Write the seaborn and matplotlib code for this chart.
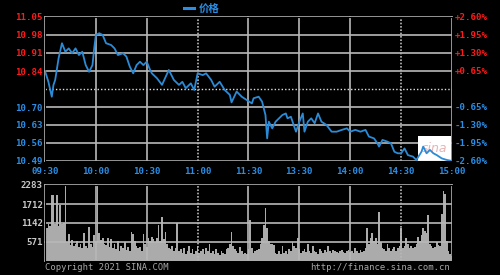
import matplotlib
matplotlib.use("Agg")
import matplotlib.pyplot as plt
import seaborn as sns
import pandas as pd
from matplotlib.patches import Rectangle

# ---------------- data ----------------
price_minutes = [0, 2, 4, 5, 6, 8, 10, 12, 14, 16, 18, 20, 22, 24, 26, 28, 29, 30, 32, 34,
                 36, 39, 41, 43, 46, 48, 50, 52, 54, 56, 58, 60, 62, 63, 66, 69, 73, 76, 79, 81,
                 83, 86, 88, 90, 93, 95, 98, 100, 103, 106, 109, 110, 113, 116, 119, 122, 123, 126, 128, 130,
                 131, 132, 134, 136, 138, 140, 142, 143, 145, 147, 148, 150, 152, 153, 155, 157, 159, 161, 163, 166,
                 169, 172, 175, 178, 180, 183, 186, 189, 191, 194, 196, 197, 199, 202, 204, 206, 208, 210, 212, 214,
                 217, 219, 222, 223, 225, 227, 229, 231, 234, 237, 240]
prices = [10.840, 10.798, 10.740, 10.786, 10.805, 10.889, 10.948, 10.915, 10.928, 10.909,
          10.928, 10.902, 10.915, 10.863, 10.837, 10.863, 10.928, 10.980, 10.987, 10.980,
          10.948, 10.941, 10.928, 10.902, 10.909, 10.896, 10.857, 10.831, 10.863, 10.876,
          10.863, 10.876, 10.844, 10.831, 10.812, 10.786, 10.844, 10.805, 10.786, 10.798,
          10.773, 10.792, 10.766, 10.831, 10.824, 10.831, 10.805, 10.779, 10.798, 10.766,
          10.747, 10.718, 10.760, 10.740, 10.727, 10.714, 10.734, 10.740, 10.721, 10.669,
          10.578, 10.643, 10.617, 10.643, 10.656, 10.669, 10.675, 10.656, 10.662, 10.623,
          10.604, 10.643, 10.675, 10.604, 10.643, 10.656, 10.637, 10.675, 10.643, 10.630,
          10.604, 10.604, 10.611, 10.617, 10.604, 10.611, 10.604, 10.611, 10.585, 10.578,
          10.559, 10.546, 10.572, 10.565, 10.559, 10.526, 10.520, 10.520, 10.539, 10.513,
          10.507, 10.494, 10.526, 10.546, 10.520, 10.533, 10.520, 10.513, 10.500, 10.494,
          10.490]

volumes = [1150, 1000, 1100, 1050, 1980, 1980, 1100, 1980, 1050, 1680, 1100, 1150, 2283, 560,
           820, 480, 640, 450, 500, 600, 420, 520, 400, 840, 450, 380, 1020, 500, 420, 780, 600,
           2250, 850, 620, 700, 520,
           480, 700, 420, 650, 380, 520, 350, 600, 300, 450, 380, 560, 320, 420, 300,
           870, 820, 600,
           450, 380, 420, 300,
           810, 500, 420,
           700, 600, 720, 650, 560, 700,
           1080, 600, 1320, 650, 870, 500,
           400, 350, 450, 300, 380,
           1140, 300,
           350, 250, 400, 200, 300, 450, 250, 350, 200, 300,
           450, 250, 300, 350, 200, 400, 300, 500, 250, 300, 200, 350, 250, 180, 300,
           250, 200, 350, 400, 500, 870, 450, 350, 300, 250, 430, 300, 200, 250, 200,
           350, 1230, 400,
           250, 300, 320, 350,
           500, 690, 1080, 1590, 1000, 600,
           520, 500, 480,
           250, 200, 300, 220, 450, 250, 300, 200, 350, 300, 580,
           450, 400, 690,
           350, 250, 300, 350, 280, 520, 300, 250, 450, 300, 280, 200, 350, 300, 250, 320,
           280, 450, 300, 250, 330, 300, 280, 250, 300, 330, 280, 250, 300, 320, 260, 300,
           250, 400, 300, 250, 320, 280, 300,
           400, 990, 500, 690, 840, 600, 700, 500, 1470, 560,
           400, 350, 300, 500, 400, 300, 350, 420, 300, 380, 450,
           1000, 400, 450, 690,
           500, 400, 450, 380, 420, 500,
           720, 600, 780, 990, 900, 850, 1380,
           500, 450, 400, 420, 570, 480, 450,
           1400, 2100, 2000, 600, 300, 200, 150]

time_labels = ["09:30", "10:00", "10:30", "11:00", "11:30", "13:30", "14:00", "14:30", "15:00"]
price_ticks = [11.05, 10.98, 10.91, 10.84, 10.77, 10.70, 10.63, 10.56, 10.49]
price_labels = ["11.05", "10.98", "10.91", "10.84", "", "10.70", "10.63", "10.56", "10.49"]
pct_labels = ["+2.60%", "+1.95%", "+1.30%", "+0.65%", "", "-0.65%", "-1.30%", "-1.95%", "-2.60%"]
vol_ticks = [2283, 1712, 1142, 571]
vol_labels = ["2283", "1712", "1142", "571"]

# ---------------- style constants ----------------
GRID = "#b8b8b8"
RED = "#ff1a1a"
BLUE = "#2a8ee6"
LINE = "#2b8bd6"
VOLC = "#ababab"
FS = 6.6
MONO = "DejaVu Sans Mono"
CJK = ["Noto Sans CJK SC", "DejaVu Sans"]

fig = plt.figure(figsize=(5, 2.75), dpi=100, facecolor="black")
ax = fig.add_axes([45 / 500, 1 - 161 / 275, 407 / 500, 144 / 275])
axv = fig.add_axes([45 / 500, 1 - 261 / 275, 407 / 500, 76 / 275])
for a in (ax, axv):
    a.set_facecolor("black")
    a.set_xlim(0, 240)
ax.set_ylim(10.49, 11.05)
axv.set_ylim(0, 2283)

minute_ticks = [i * 30 for i in range(len(time_labels))]

# ---- price panel rules ----
for t in price_ticks:
    if abs(t - 10.77) < 1e-6:
        ax.axhline(t, color="#e0e0e0", lw=1.0, ls=(0, (1, 1.5)), clip_on=False)
    else:
        ax.axhline(t, color=GRID, lw=1.2, clip_on=False)
for i, m in enumerate(minute_ticks):
    if time_labels[i] in ("11:00", "14:30"):
        ax.axvline(m, color=GRID, lw=1.2, ls=(0, (1, 1)), clip_on=False)
    else:
        ax.axvline(m, color=GRID, lw=1.2, clip_on=False)

# sina logo box
ax.add_patch(Rectangle((220.0, 10.49), 19.5, 0.097, facecolor="white", edgecolor="none",
                       zorder=2.5))
ax.text(229.7, 10.538, "sina", color="#e8b4b4", fontsize=9, style="italic",
        ha="center", va="center", zorder=2.6)

# price line
df = pd.DataFrame({"minute": price_minutes, "price": prices})
sns.lineplot(data=df, x="minute", y="price", ax=ax, color=LINE, lw=1.3, zorder=3, label="价格")
ax.set_ylim(10.49, 11.05)
ax.set_xlim(0, 240)
ax.set_xlabel("")
ax.set_ylabel("")
leg = ax.legend(loc="center", bbox_to_anchor=(0.385, 1 + 8.5 / 144), frameon=False,
                handlelength=1.0, handletextpad=0.5, borderpad=0, fontsize=7.5,
                prop={"family": CJK, "size": 7.5, "weight": "bold"})
for txt in leg.get_texts():
    txt.set_color(BLUE)
for h in leg.legend_handles:
    h.set_color(BLUE)
    h.set_linewidth(2.2)

ax.set_yticks(price_ticks)
ax.set_yticklabels(price_labels, fontsize=FS, fontweight="bold", fontfamily=MONO)
for i, lab in enumerate(ax.get_yticklabels()):
    lab.set_color(RED if i < 4 else BLUE)
ax.set_xticks(minute_ticks)
ax.set_xticklabels(time_labels, fontsize=FS, fontweight="bold", color=BLUE, fontfamily=MONO)
ax.tick_params(axis="both", length=0)
ax.tick_params(axis="y", pad=1.5)
ax.tick_params(axis="x", pad=4)

# right-hand percentage labels
ytr = ax.get_yaxis_transform()
for t, lab in zip(price_ticks, pct_labels):
    if lab:
        ax.text(1.006, t, lab, transform=ytr, ha="left", va="center", fontsize=FS,
                fontweight="bold", fontfamily=MONO,
                color=RED if lab.startswith("+") else BLUE)

# ---- volume panel ----
vdf = pd.DataFrame({"minute": list(range(len(volumes))), "vol": volumes})
sns.histplot(data=vdf, x="minute", weights="vol", discrete=True, ax=axv,
             color=VOLC, alpha=1.0, linewidth=0, element="bars")
for t in vol_ticks + [0]:
    axv.axhline(t, color=GRID, lw=1.2, clip_on=False)
for i, m in enumerate(minute_ticks):
    if time_labels[i] in ("11:00", "14:30"):
        axv.axvline(m, color=GRID, lw=1.2, ls=(0, (1, 1)), clip_on=False)
    else:
        axv.axvline(m, color=GRID, lw=1.2, clip_on=False)
axv.set_ylim(0, 2283)
axv.set_xlim(0, 240)
axv.set_xlabel("")
axv.set_ylabel("")
axv.set_yticks(vol_ticks)
axv.set_yticklabels(vol_labels, fontsize=FS, fontweight="bold", color="#c8c8c8", fontfamily=MONO)
axv.set_xticks([])
axv.tick_params(axis="y", length=0, pad=1.5)

fig.text(45 / 500, 1 - 268 / 275, "Copyright 2021 SINA.COM", color="#a8a8a8",
         fontsize=6.4, ha="left", va="center", fontfamily=MONO)
fig.text(450 / 500, 1 - 268 / 275, "http://finance.sina.com.cn", color="#a8a8a8",
         fontsize=6.4, ha="right", va="center", fontfamily=MONO)

fig.canvas.draw()
fig.savefig("out.png", dpi=100, facecolor="black")
